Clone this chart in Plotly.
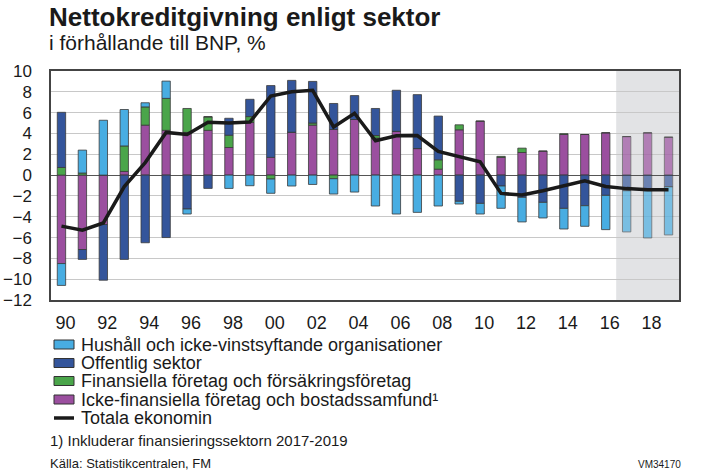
import plotly.graph_objects as go

years = list(range(1990, 2020))

hushall = [-2.1, 2.2, 5.27, 3.5, 0.4, 1.66, -0.48, 0, -1.28, -1.02,
           -1.37, -1.05, -0.9, -1.47, -1.63, -2.97, -3.74, -3.58, -2.97, -0.26,
           -1.02, -2.14, -2.36, -1.5, -1.98, -1.98, -3.29, -3.96, -4.54, -4.63]
offentlig = [5.3, -0.95, -5.35, -8.1, -6.5, -6.0, -3.26, -1.28, 1.63, 1.66,
             6.9, 4.98, 4.0, 2.5, 2.3, 2.6, 3.95, 5.18, 4.2, -2.52,
             -2.72, -1.05, -2.14, -2.62, -3.2, -2.94, -1.95, -1.5, -1.5, -1.12]
finansiella = [0.73, 0.2, 0, 2.45, 1.75, 3.07, 2.3, 1.3, 1.18, 0.57,
               -0.38, 0, 0.2, -0.35, 0, 0.25, 0, 0, 0.9, 0.48,
               0, 0.1, 0.42, 0, 0.08, 0, 0, 0, 0, 0]
icke_fin = [-8.5, -7.15, -4.75, 0.35, 4.8, 4.3, 4.1, 4.3, 2.65, 5.05,
            1.7, 4.12, 4.8, 4.38, 5.34, 3.55, 4.2, 2.55, 0.57, 4.35,
            5.18, 1.7, 2.17, 2.3, 3.9, 3.9, 4.06, 3.7, 4.06, 3.64]
totala = [-4.9, -5.3, -4.6, -1.1, 1.2, 4.1, 3.9, 5.08, 5.0, 5.1,
          7.6, 8.0, 8.15, 4.63, 5.94, 3.3, 3.77, 3.8, 2.27, 1.79,
          1.28, -1.76, -1.92, -1.5, -1.05, -0.55, -1.1, -1.3, -1.4, -1.4]

tick_years = list(range(1990, 2020, 2))
tick_labels = ["90", "92", "94", "96", "98", "00", "02", "04", "06", "08",
               "10", "12", "14", "16", "18"]
y_ticks = list(range(-12, 11, 2))

forecast_start = 2017
names = ["Hushåll och icke-vinstsyftande organisationer", "Offentlig sektor",
         "Finansiella företag och försäkringsföretag",
         "Icke-finansiella företag och bostadssamfund\u00b9", "Totala ekonomin"]
colors = ["#48ade2", "#34559b", "#4aa54a", "#9b4f9f", "#1a1a1a"]

FONT = "Liberation Sans, Arial, sans-serif"
opac = [0.68 if y >= forecast_start else 1.0 for y in years]

fig = go.Figure()
# stacking order from zero outwards: purple, green, dark blue, light blue
for vals, i in [(icke_fin, 3), (finansiella, 2), (offentlig, 1), (hushall, 0)]:
    fig.add_trace(go.Bar(x=years, y=vals, name=names[i], width=0.4,
                         marker=dict(color=colors[i], opacity=opac,
                                     line=dict(color="#3a3a3a", width=0.8))))
fig.add_trace(go.Scatter(x=years, y=totala, name=names[4], mode="lines",
                         line=dict(color=colors[4], width=3.5)))

# layout helpers (pixel -> paper)
L, R, T, B, W, H = 51, 43, 71, 172, 722, 472
pw, ph = W - L - R, H - T - B
def px(p): return (p - L) / pw
def py(p): return (H - B - p) / ph

fig.add_shape(type="rect", xref="x", yref="paper", x0=forecast_start - 0.5, x1=2019.5,
              y0=0, y1=1, fillcolor="#e2e3e5", line_width=0, layer="below")

ann = [
    dict(text="<b>Nettokreditgivning enligt sektor</b>", x=px(47), y=py(17), size=26),
    dict(text="i förhållande till BNP, %", x=px(47), y=py(43), size=21),
    dict(text="1) Inkluderar finansieringssektorn 2017-2019", x=px(48), y=py(440), size=15),
    dict(text="Källa: Statistikcentralen, FM", x=px(48), y=py(463), size=13),
]
for a in ann:
    fig.add_annotation(text=a["text"], x=a["x"], y=a["y"], xref="paper", yref="paper",
                       xanchor="left", yanchor="middle", showarrow=False,
                       font=dict(family=FONT, size=a["size"], color="#1a1a1a"))
fig.add_annotation(text="VM34170", x=px(683), y=py(464), xref="paper", yref="paper",
                   xanchor="right", yanchor="middle", showarrow=False,
                   font=dict(family=FONT, size=10, color="#1a1a1a"))

# manual legend
leg_y = [344.5, 363, 381, 399.5, 418]
for i, yy in enumerate(leg_y):
    if i < 4:
        fig.add_shape(type="rect", xref="paper", yref="paper",
                      x0=px(54), x1=px(74), y0=py(yy + 4.5), y1=py(yy - 4.5),
                      fillcolor=colors[i], line=dict(color="#333333", width=1))
    else:
        fig.add_shape(type="line", xref="paper", yref="paper",
                      x0=px(54), x1=px(74), y0=py(yy), y1=py(yy),
                      line=dict(color=colors[4], width=3.5))
    fig.add_annotation(text=names[i], x=px(79), y=py(yy), xref="paper", yref="paper",
                       xanchor="left", yanchor="middle", showarrow=False,
                       font=dict(family=FONT, size=18, color="#1a1a1a"))

fig.update_layout(
    width=W, height=H, margin=dict(l=L, r=R, t=T, b=B, pad=0, autoexpand=False),
    barmode="relative", showlegend=False,
    plot_bgcolor="white", paper_bgcolor="white",
    font=dict(family=FONT, size=17, color="#1a1a1a"),
    xaxis=dict(range=[1989.5, 2019.5], tickvals=tick_years, ticktext=tick_labels,
               showgrid=False, zeroline=False, showline=True, mirror=True,
               linecolor="#444444", linewidth=1.5, ticks="", automargin=False,
               tickfont=dict(size=18), ticklabelstandoff=6, ticklabelshift=4),
    yaxis=dict(range=[-12, 10], tickvals=y_ticks, showgrid=True, gridcolor="#c8c8c8",
               gridwidth=1, zeroline=True, zerolinecolor="#555555", zerolinewidth=1.2,
               showline=True, mirror=True, linecolor="#444444", linewidth=1.5,
               ticks="", ticklabelstandoff=14, automargin=False),
    yaxis2=dict(range=[-12, 10], tickvals=y_ticks, overlaying="y", side="right",
                matches="y", showgrid=False, zeroline=False, ticks="",
                ticklabelstandoff=14, automargin=False),
)

fig.write_html("out.html", config={"displayModeBar": False},
               post_script="document.body.style.margin='0';")
